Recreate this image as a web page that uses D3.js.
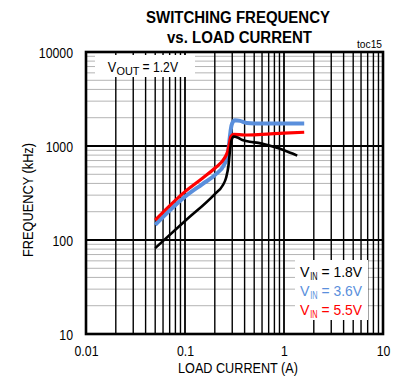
<!DOCTYPE html>
<html><head><meta charset="utf-8">
<script src="https://cdn.jsdelivr.net/npm/d3@7"></script>
<style>
body{margin:0;background:#fff;}
svg{display:block;font-family:"Liberation Sans",Arial,sans-serif;}
</style></head>
<body><svg id="c" width="395" height="378"></svg>
<script>
// ---- data ----
const xTicks = [0.01, 0.1, 1, 10];
const xTickLabels = ["0.01", "0.1", "1", "10"];
const yTicks = [10, 100, 1000, 10000];
const yTickLabels = ["10", "100", "1000", "10000"];

const vin18Current = [0.05, 0.1, 0.2, 0.24, 0.26, 0.275, 0.285, 0.295, 0.31, 0.34, 0.38, 0.45, 0.55, 0.65, 0.8, 1.0, 1.36];
const vin18Freq    = [82, 159, 308, 380, 460, 620, 900, 1150, 1260, 1230, 1160, 1110, 1080, 1040, 975, 900, 790];

const vin36Current = [0.05, 0.1, 0.15, 0.2, 0.25, 0.27, 0.28, 0.29, 0.30, 0.32, 0.36, 0.42, 0.6, 1.0, 1.6];
const vin36Freq    = [145, 289, 394, 490, 640, 800, 1100, 1500, 1750, 1880, 1850, 1760, 1735, 1740, 1740];

const vin55Current = [0.05, 0.1, 0.15, 0.2, 0.25, 0.27, 0.28, 0.29, 0.31, 0.4, 0.6, 1.0, 1.6];
const vin55Freq    = [163, 327, 455, 580, 740, 880, 1050, 1250, 1330, 1310, 1330, 1370, 1400];

const seriesNames = ["1.8V", "3.6V", "5.5V"];
const seriesColors = ["#000000", "#5a8fdc", "#ff0000"];

// ---- chart ----
const svg = d3.select("#c");
const L = 86, R = 383, T = 52, B = 334;
const x = d3.scaleLog().domain([0.01, 10]).range([L, R]);
const y = d3.scaleLog().domain([10, 10000]).range([B, T]);

function narrow(sel, k) {
  sel.each(function () {
    const w = this.getComputedTextLength();
    d3.select(this).attr("textLength", w * k).attr("lengthAdjust", "spacingAndGlyphs");
  });
}
function fitText(xx, yy, size, len, txt, col) {
  return svg.append("text").attr("x", xx).attr("y", yy).attr("font-size", size).attr("fill", col || "#000")
    .attr("textLength", len).attr("lengthAdjust", "spacingAndGlyphs").text(txt);
}

const minorX = [], minorY = [];
for (let d = 0.01; d < 10; d *= 10) for (let k = 2; k <= 9; k++) minorX.push(+(d * k).toPrecision(3));
for (let d = 10; d < 10000; d *= 10) for (let k = 2; k <= 9; k++) minorY.push(d * k);

const g = svg.append("g");
g.selectAll(".hm").data(minorY).join("line")
  .attr("x1", L).attr("x2", R).attr("y1", d => y(d)).attr("y2", d => y(d))
  .attr("stroke", "#b4b4b4").attr("stroke-width", 1);
g.selectAll(".vm").data(minorX).join("line")
  .attr("x1", d => x(d)).attr("x2", d => x(d)).attr("y1", T).attr("y2", B)
  .attr("stroke", "#000").attr("stroke-width", 1.4);
g.selectAll(".hM").data(yTicks).join("line")
  .attr("x1", L).attr("x2", R).attr("y1", d => y(d)).attr("y2", d => y(d))
  .attr("stroke", "#000").attr("stroke-width", 1.8);
g.selectAll(".vM").data(xTicks).join("line")
  .attr("x1", d => x(d)).attr("x2", d => x(d)).attr("y1", T).attr("y2", B)
  .attr("stroke", "#000").attr("stroke-width", 1.8);

// VOUT box
svg.append("rect").attr("x", 95).attr("y", 55).attr("width", 100).attr("height", 22).attr("fill", "#fff");
fitText(107.7, 72, 15, 8.5, "V");
fitText(116.5, 75, 11, 23, "OUT");
fitText(142.5, 72, 15, 35.5, "= 1.2V");

// legend box
svg.append("rect").attr("x", 295).attr("y", 260).attr("width", 73).attr("height", 60).attr("fill", "#fff");

// frame
svg.append("rect").attr("x", L).attr("y", T).attr("width", R - L).attr("height", B - T)
  .attr("fill", "none").attr("stroke", "#000").attr("stroke-width", 2.6);

const xAxis = d3.axisBottom(x).tickValues(xTicks).tickFormat((d, i) => xTickLabels[i]).tickSize(0).tickPadding(0);
const xa = svg.append("g").attr("transform", `translate(0,${B})`).call(xAxis);
xa.select(".domain").remove();
xa.selectAll("text").attr("font-size", 15).attr("fill", "#000").attr("dy", null).attr("y", 22)
  .attr("font-family", "'Liberation Sans',Arial,sans-serif");
narrow(xa.selectAll("text"), 0.82);

const yAxis = d3.axisLeft(y).tickValues(yTicks).tickFormat((d, i) => yTickLabels[i]).tickSize(0).tickPadding(0);
const ya = svg.append("g").attr("transform", `translate(${L},0)`).call(yAxis);
ya.select(".domain").remove();
ya.selectAll("text").attr("font-size", 15).attr("fill", "#000").attr("x", -13).attr("dy", "0.36em")
  .attr("font-family", "'Liberation Sans',Arial,sans-serif");
narrow(ya.selectAll("text"), 0.82);

const line = d3.line().x(d => x(d[0])).y(d => y(d[1])).curve(d3.curveMonotoneX);
const series = [
  {c: vin36Current, f: vin36Freq, col: seriesColors[1], w: 4},
  {c: vin55Current, f: vin55Freq, col: seriesColors[2], w: 3.2},
  {c: vin18Current, f: vin18Freq, col: seriesColors[0], w: 2.6}
];
series.forEach(s => {
  svg.append("path").datum(s.c.map((v, i) => [v, s.f[i]]))
    .attr("d", line).attr("fill", "none").attr("stroke", s.col).attr("stroke-width", s.w)
    .attr("stroke-linejoin", "round").attr("stroke-linecap", "butt");
});

const baselines = [277, 296, 315];
seriesNames.forEach((n, i) => {
  fitText(300, baselines[i], 15, 9.5, "V", seriesColors[i]);
  fitText(310.2, baselines[i] + 3.2, 11, 7.3, "IN", seriesColors[i]);
  fitText(321.5, baselines[i], 15, 40.5, "= " + n, seriesColors[i]);
});

svg.append("text").attr("x", 238).attr("y", 23).attr("text-anchor", "middle").attr("font-size", 16).attr("font-weight", "bold")
  .attr("textLength", 184).attr("lengthAdjust", "spacingAndGlyphs").text("SWITCHING FREQUENCY");
svg.append("text").attr("x", 239.5).attr("y", 43).attr("text-anchor", "middle").attr("font-size", 16).attr("font-weight", "bold")
  .attr("textLength", 145).attr("lengthAdjust", "spacingAndGlyphs").text("vs. LOAD CURRENT");
svg.append("text").attr("x", 382).attr("y", 48).attr("text-anchor", "end").attr("font-size", 11)
  .attr("textLength", 25).attr("lengthAdjust", "spacingAndGlyphs").text("toc15");

svg.append("text").attr("x", 238).attr("y", 373).attr("text-anchor", "middle").attr("font-size", 15)
  .attr("textLength", 120).attr("lengthAdjust", "spacingAndGlyphs").text("LOAD CURRENT (A)");
svg.append("text").attr("transform", "translate(33,200) rotate(-90)").attr("text-anchor", "middle").attr("font-size", 15)
  .attr("textLength", 114).attr("lengthAdjust", "spacingAndGlyphs").text("FREQUENCY (kHz)");
</script></body></html>
